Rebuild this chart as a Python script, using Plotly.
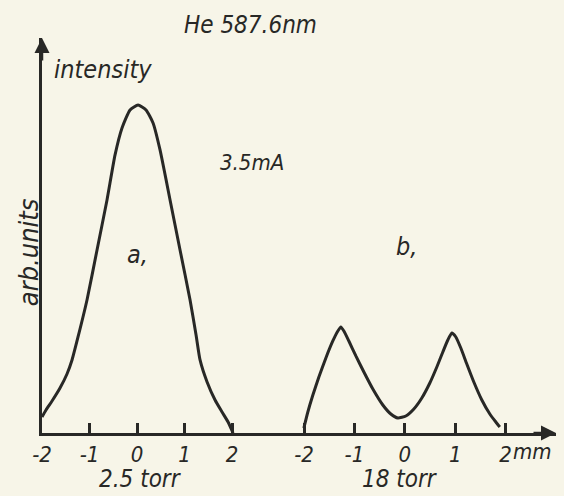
import plotly.graph_objects as go

# Curve a) 2.5 torr  (position in mm, intensity in arb. units)
a_x = [-2.0, -1.916, -1.789, -1.621, -1.474, -1.368, -1.242, -1.053, -0.842, -0.632, -0.463, -0.316,
       -0.147, 0.021, 0.189, 0.337, 0.484, 0.695, 0.905, 1.116, 1.242, 1.326, 1.474, 1.642, 1.789, 1.916, 2.021]
a_y = [4.88, 7.01, 9.76, 13.72, 17.99, 22.26, 29.27, 40.55, 55.79, 71.04, 84.76, 92.99,
       98.48, 100.0, 98.48, 94.51, 86.28, 71.04, 55.79, 40.55, 29.88, 22.26, 15.55, 10.06, 6.40, 3.35, 0.0]

# Curve b) 18 torr
b_x = [-2.004, -1.925, -1.825, -1.706, -1.567, -1.429, -1.329, -1.270, -1.210, -1.111, -0.972, -0.813,
       -0.635, -0.437, -0.278, -0.139, 0.020, 0.179, 0.337, 0.496, 0.635, 0.754, 0.853, 0.933, 1.012,
       1.111, 1.230, 1.369, 1.528, 1.687, 1.806, 1.885]
b_y = [1.52, 6.40, 11.59, 17.07, 22.87, 28.05, 31.10, 32.32, 31.10, 28.05, 23.48, 18.60,
       13.41, 8.54, 5.79, 4.57, 5.18, 7.32, 10.67, 15.24, 20.12, 24.70, 28.35, 30.49, 29.27,
       25.91, 21.04, 15.55, 10.06, 5.79, 3.35, 1.83]

tick_vals = [-2, -1, 0, 1, 2]
tick_text = ["-2", "-1", "0", "1", "2"]

INK = "#282826"
PAPER = "#f7f5e8"
FONT = "DejaVu Sans Condensed, DejaVu Sans, sans-serif"

fig = go.Figure()
fig.add_trace(go.Scatter(x=a_x, y=a_y, mode="lines", xaxis="x", yaxis="y",
                         line=dict(color=INK, width=3, shape="spline", smoothing=0.5),
                         showlegend=False, hoverinfo="skip"))
fig.add_trace(go.Scatter(x=b_x, y=b_y, mode="lines", xaxis="x2", yaxis="y",
                         line=dict(color=INK, width=3, shape="spline", smoothing=0.5),
                         showlegend=False, hoverinfo="skip"))

axis_common = dict(showgrid=False, zeroline=False, showline=True, linecolor=INK, linewidth=2.5,
                   ticks="inside", ticklen=10, tickwidth=2.5, tickcolor=INK,
                   tickvals=tick_vals, ticktext=tick_text,
                   tickfont=dict(family=FONT, size=22, color=INK, style="italic"),
                   fixedrange=True)

fig.update_layout(
    width=564, height=496,
    margin=dict(l=42, r=8, t=38, b=63),
    paper_bgcolor=PAPER, plot_bgcolor=PAPER,
    xaxis=dict(domain=[0, 0.502], range=[-2, 3.43], anchor="y", **axis_common),
    xaxis2=dict(domain=[0.502, 1], range=[-2.08, 3.0], anchor="y", **axis_common),
    yaxis=dict(range=[0, 120.4], showgrid=False, zeroline=False, showline=True,
               linecolor=INK, linewidth=2.5, showticklabels=False, ticks="", fixedrange=True),
    showlegend=False,
)

def txt(text, x, y, size, xref="paper", yref="paper", angle=0, yanchor="middle"):
    fig.add_annotation(text=text, x=x, y=y, xref=xref, yref=yref, showarrow=False,
                       xanchor="center", yanchor=yanchor, textangle=angle,
                       font=dict(family=FONT, size=size, color=INK, style="italic"))

txt("He 587.6nm", 0.405, 1.033, 24)
txt("intensity", 0.119, 0.919, 25)
txt("arb.units", -0.027, 0.458, 27, angle=-90)
txt("3.5mA", 0.409, 0.684, 22)
txt("a,", 0.0, 54.3, 25, xref="x", yref="y")
txt("b,", 0.03, 56.7, 25, xref="x2", yref="y")
txt("2.5 torr", 0.06, -0.157, 24, xref="x", yanchor="bottom")
txt("18 torr", -0.1, -0.157, 24, xref="x2", yanchor="bottom")
txt("mm", 2.54, -0.046, 22, xref="x2")

# axis arrowheads
fig.add_annotation(x=-2, y=120.4, xref="x", yref="y", ax=0, ay=24, showarrow=True,
                   arrowhead=2, arrowsize=1.2, arrowwidth=2.5, arrowcolor=INK, text="")
fig.add_annotation(x=3.0, y=0, xref="x2", yref="y", ax=-24, ay=0, showarrow=True,
                   arrowhead=2, arrowsize=1.2, arrowwidth=2.5, arrowcolor=INK, text="")

fig.write_html("out.html", config={"displayModeBar": False},
               post_script="document.body.style.margin='0';document.body.style.background='%s';" % PAPER)
